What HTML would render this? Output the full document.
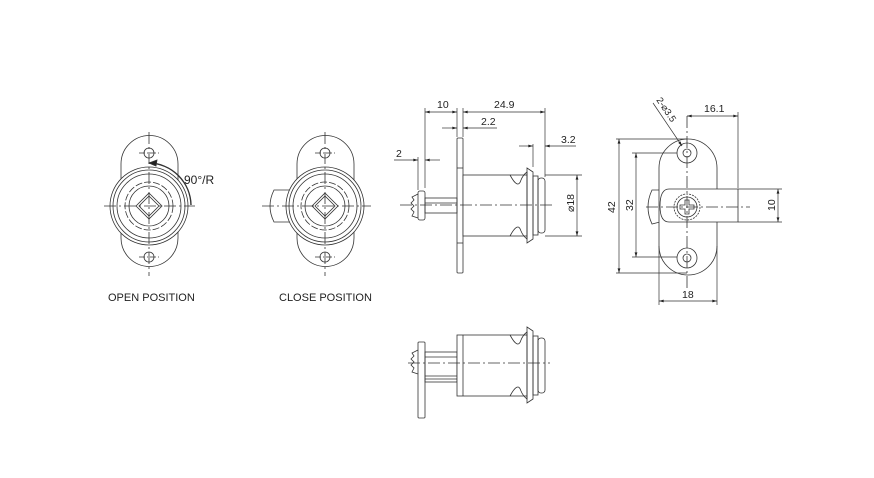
<!DOCTYPE html>
<html><head><meta charset="utf-8"><style>
html,body{margin:0;padding:0;background:#fff}
svg{display:block}
text{font-family:"Liberation Sans",sans-serif;fill:#222}
</style></head><body>
<svg width="874" height="478" viewBox="0 0 874 478" xmlns="http://www.w3.org/2000/svg">
<defs>
<marker id="a" viewBox="0 0 10 6" refX="10" refY="3" markerWidth="7" markerHeight="4" orient="auto-start-reverse"><path d="M0,0L10,3L0,6z" fill="#222"/></marker>
<g id="lock">
<path d="M121,164 A28,28 0 0 1 178,164 L178,238 A28,28 0 0 1 121,238 Z" fill="#fff"/>
<circle cx="149" cy="153" r="5"/><circle cx="149" cy="257" r="5"/>
<line x1="139" y1="153" x2="159" y2="153" stroke-dasharray="6,2,1,2"/>
<line x1="139" y1="257" x2="159" y2="257" stroke-dasharray="6,2,1,2"/>
<circle cx="149" cy="206" r="39" fill="#fff"/><circle cx="149" cy="206" r="36"/><circle cx="149" cy="206" r="32"/>
<circle cx="149" cy="206" r="24" stroke-dasharray="7,2"/><circle cx="149" cy="206" r="20"/>
<path d="M149,193 L162,206 L149,219 L136,206 Z"/>
<path d="M149,196 L159,206 L149,216 L139,206 Z"/>
<line x1="149" y1="132" x2="149" y2="276" stroke-dasharray="12,3,2,3"/>
</g>
</defs>
<g fill="none" stroke="#333" stroke-width="0.8">
<use href="#lock"/>
<line x1="104" y1="206" x2="195" y2="206" stroke-dasharray="12,3,2,3"/>
<path d="M149,163 A43,43 0 0 1 191,205" stroke-width="1.4"/>
<path d="M149,163 L157,160 L156,166 Z" fill="#222"/>
<g transform="translate(176,0)">
<path d="M114,190 L98,190 Q90,206 98,222 L114,222" fill="#fff"/>
<use href="#lock"/>
<line x1="86" y1="206" x2="195" y2="206" stroke-dasharray="12,3,2,3"/>
</g>
<!-- SIDE view -->
<g>
<rect x="457" y="138" width="6" height="135" rx="1" fill="#fff"/>
<line x1="457" y1="168" x2="463" y2="168"/><line x1="457" y1="243" x2="463" y2="243"/>
<rect x="463" y="175" width="64" height="61" fill="#fff"/>
<path d="M510,175 Q518,190 521,180 Q523,175 527,172 L527,239 Q523,236 521,231 Q518,221 510,236"/>
<path d="M527,168 L533,172 L533,239 L527,243 Z"/>
<rect x="533" y="176" width="5" height="59"/>
<rect x="538" y="178" width="7" height="55" rx="3"/>
<rect x="425" y="198" width="32" height="15"/>
<line x1="425" y1="203" x2="457" y2="203"/>
<rect x="418" y="191" width="7" height="29" rx="2"/>
<path d="M418,194 L412,197 L414,200 L411,203 L414,206 L411,209 L414,212 L412,216 L418,218"/>
<line x1="400" y1="205" x2="555" y2="205" stroke-dasharray="12,3,2,3"/>
<g stroke-width="0.7">
<line x1="425" y1="108" x2="425" y2="188"/><line x1="457" y1="108" x2="457" y2="137"/><line x1="463" y1="108" x2="463" y2="137"/><line x1="545" y1="108" x2="545" y2="177"/><line x1="533" y1="144" x2="533" y2="167"/><line x1="418" y1="157" x2="418" y2="190"/>
<line x1="425" y1="112" x2="457" y2="112" marker-start="url(#a)" marker-end="url(#a)"/>
<line x1="463" y1="112" x2="545" y2="112" marker-start="url(#a)" marker-end="url(#a)"/>
<line x1="442" y1="128" x2="457" y2="128" marker-end="url(#a)"/><line x1="463" y1="128" x2="497" y2="128" marker-start="url(#a)"/>
<line x1="519" y1="146" x2="533" y2="146" marker-end="url(#a)"/><line x1="545" y1="146" x2="576" y2="146" marker-start="url(#a)"/>
<line x1="394" y1="160" x2="418" y2="160" marker-end="url(#a)"/><line x1="425" y1="160" x2="440" y2="160" marker-start="url(#a)"/>
<line x1="545" y1="175" x2="582" y2="175"/><line x1="545" y1="236" x2="582" y2="236"/>
<line x1="577" y1="175" x2="577" y2="236" marker-start="url(#a)" marker-end="url(#a)"/>
</g>
</g>
<!-- RIGHT view -->
<g>
<path d="M652,190 Q644,207 652,224 L660,222 L660,190 Z"/>
<path d="M659,168 A29,29 0 0 1 717,168 L717,246 A29,29 0 0 1 659,246 Z" fill="#fff"/>
<path d="M669,189 L738,189 L738,222 L669,222 Q660,222 660,206 Q660,189 669,189 Z" fill="#fff"/>
<circle cx="687" cy="153" r="10"/><circle cx="687" cy="153" r="4"/>
<circle cx="687" cy="258" r="10"/><circle cx="687" cy="258" r="4"/>
<circle cx="687" cy="207" r="13" stroke-dasharray="2,1"/><circle cx="687" cy="207" r="10"/>
<path d="M685,200 h4 v5 h5 v4 h-5 v5 h-4 v-5 h-5 v-4 h5 z"/>
<line x1="646" y1="207" x2="750" y2="207" stroke-dasharray="12,3,2,3"/>
<line x1="687" y1="116" x2="687" y2="290" stroke-dasharray="12,3,2,3"/>
<g stroke-width="0.7">
<line x1="616" y1="139" x2="687" y2="139"/><line x1="616" y1="273" x2="687" y2="273"/>
<line x1="632" y1="153" x2="677" y2="153"/><line x1="632" y1="257" x2="677" y2="257"/>
<line x1="619" y1="139" x2="619" y2="273" marker-start="url(#a)" marker-end="url(#a)"/>
<line x1="636" y1="153" x2="636" y2="257" marker-start="url(#a)" marker-end="url(#a)"/>
<line x1="738" y1="112" x2="738" y2="188"/>
<line x1="687" y1="116" x2="738" y2="116" marker-start="url(#a)" marker-end="url(#a)"/>
<line x1="738" y1="189" x2="782" y2="189"/><line x1="738" y1="222" x2="782" y2="222"/>
<line x1="778" y1="189" x2="778" y2="222" marker-start="url(#a)" marker-end="url(#a)"/>
<line x1="659" y1="246" x2="659" y2="305"/><line x1="717" y1="246" x2="717" y2="305"/>
<line x1="659" y1="301" x2="717" y2="301" marker-start="url(#a)" marker-end="url(#a)"/>
<line x1="653" y1="103" x2="682" y2="146" marker-end="url(#a)"/>
</g>
</g>
<!-- BOTTOM view -->
<g>
<rect x="418" y="342" width="7" height="76" rx="1" fill="#fff"/>
<path d="M418,350 L412,353 L414,356 L411,359 L414,362 L411,365 L414,368 L412,372 L418,374"/>
<rect x="425" y="352" width="32" height="30"/>
<line x1="425" y1="357" x2="457" y2="357"/><line x1="425" y1="376" x2="457" y2="376"/><line x1="425" y1="379" x2="457" y2="379"/>
<rect x="457" y="335" width="70" height="61" fill="#fff"/>
<line x1="463" y1="335" x2="463" y2="396"/>
<path d="M510,335 Q518,350 521,340 Q523,335 527,332 L527,399 Q523,396 521,391 Q518,381 510,396"/>
<path d="M527,327 L533,331 L533,399 L527,403 Z"/>
<rect x="533" y="336" width="5" height="59"/>
<rect x="538" y="338" width="7" height="55" rx="3"/>
<line x1="408" y1="363" x2="550" y2="363" stroke-dasharray="12,3,2,3"/>
</g>
</g>
<g font-size="10.5">
<text x="184" y="184" font-size="12">90°/R</text>
<text x="437" y="108">10</text>
<text x="494" y="108">24.9</text>
<text x="481" y="125">2.2</text>
<text x="561" y="143">3.2</text>
<text x="396" y="157">2</text>
<text transform="translate(574,212) rotate(-90)">⌀18</text>
<text x="704" y="112">16.1</text>
<text transform="translate(615,213) rotate(-90)">42</text>
<text transform="translate(633,211) rotate(-90)">32</text>
<text transform="translate(775,211) rotate(-90)">10</text>
<text x="682" y="298">18</text>
<text transform="translate(656,100) rotate(56)" font-size="9.5">2-⌀3.5</text>
<text x="108" y="301" font-size="11">OPEN POSITION</text>
<text x="279" y="301" font-size="11">CLOSE POSITION</text>
</g>
</svg>
</body></html>
